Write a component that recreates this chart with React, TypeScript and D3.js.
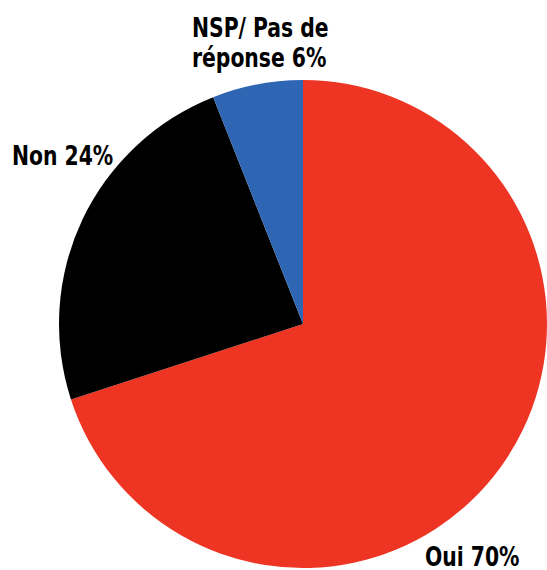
import React, { useEffect, useRef } from 'react';
import * as d3 from 'd3';

const categories = ['Oui', 'Non', 'NSP/ Pas de réponse'];
const values = [70, 24, 6];
const colors = ['#EE3524', '#000000', '#2F66B3'];
// label lines and where they sit (text only, not marks)
const labelLines = [['Oui 70%'], ['Non 24%'], ['NSP/ Pas de', 'réponse 6%']];
const labelPos = [
  { x: 425, y: 566 },
  { x: 12, y: 165 },
  { x: 192, y: 37 },
];

const W = 547;
const H = 570;
const SX = 0.87; // narrow the condensed font a bit more

export default function App() {
  const ref = useRef<SVGSVGElement | null>(null);

  useEffect(() => {
    const svg = d3.select(ref.current);
    svg.selectAll('*').remove();

    const cx = 303;
    const cy = 324;
    const r = 244;

    const data = categories.map((c, i) => ({ cat: c, value: values[i], i }));
    const pie = d3.pie<any>().sort(null).value((d) => d.value);
    const arc = d3.arc<any>().innerRadius(0).outerRadius(r);

    const g = svg.append('g').attr('transform', `translate(${cx},${cy})`);
    g.selectAll('path')
      .data(pie(data))
      .enter()
      .append('path')
      .attr('d', arc)
      .attr('fill', (d: any) => colors[d.data.i]);

    // labels
    const lab = svg.append('g')
      .attr('transform', `scale(${SX},1)`)
      .style('font-family', '"Liberation Sans Narrow", "DejaVu Sans Condensed", sans-serif')
      .style('font-weight', 'bold')
      .style('font-size', '26px')
      .attr('fill', '#000');
    labelLines.forEach((lines, i) => {
      const x = labelPos[i].x / SX;
      const t = lab.append('text').attr('x', x).attr('y', labelPos[i].y);
      lines.forEach((l, j) => {
        t.append('tspan').attr('x', x).attr('dy', j === 0 ? 0 : 30).text(l);
      });
    });
  }, []);

  return (
    <svg
      ref={ref}
      width={W}
      height={H}
      style={{ position: 'absolute', left: 0, top: 0, background: '#fff' }}
    />
  );
}
